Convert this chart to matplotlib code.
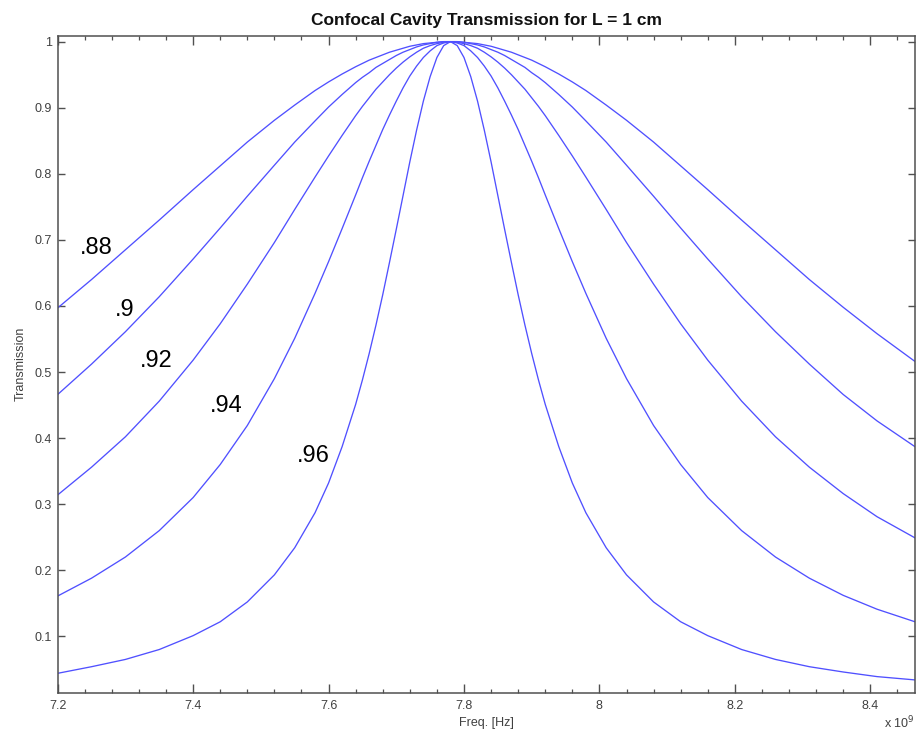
import matplotlib
matplotlib.use("Agg")
import matplotlib.pyplot as plt
from matplotlib.ticker import FixedLocator, FuncFormatter, MultipleLocator

# Frequency axis (units of 1e9 Hz)
freq_ghz = [7.20, 7.25, 7.30, 7.35, 7.40, 7.44, 7.48, 7.52, 7.55, 7.58, 7.60, 7.62, 7.64,
            7.65, 7.66, 7.67, 7.68, 7.69, 7.70, 7.71, 7.72, 7.73, 7.74, 7.75, 7.76, 7.77,
            7.78,
            7.79, 7.80, 7.81, 7.82, 7.83, 7.84, 7.85, 7.86, 7.87, 7.88, 7.89, 7.90, 7.91,
            7.92, 7.94, 7.96, 7.98, 8.01, 8.04, 8.08, 8.12, 8.16, 8.21, 8.26, 8.31, 8.36,
            8.41, 8.466]

t_088 = [0.597, 0.640, 0.685, 0.730, 0.776, 0.812, 0.848, 0.881, 0.904, 0.926, 0.939, 0.951, 0.962,
         0.967, 0.972, 0.976, 0.980, 0.984, 0.987, 0.990, 0.993, 0.995, 0.997, 0.998, 0.999, 1.000,
         1.000,
         1.000, 0.999, 0.998, 0.997, 0.995, 0.993, 0.990, 0.987, 0.984, 0.980, 0.976, 0.972, 0.967,
         0.962, 0.951, 0.939, 0.926, 0.904, 0.881, 0.848, 0.812, 0.776, 0.730, 0.685, 0.640, 0.598,
         0.558, 0.516]
t_090 = [0.466, 0.512, 0.561, 0.614, 0.671, 0.718, 0.766, 0.813, 0.848, 0.880, 0.901, 0.920, 0.938,
         0.946, 0.953, 0.961, 0.967, 0.973, 0.979, 0.984, 0.988, 0.992, 0.995, 0.997, 0.999, 1.000,
         1.000,
         1.000, 0.999, 0.997, 0.995, 0.992, 0.988, 0.984, 0.979, 0.973, 0.967, 0.961, 0.953, 0.946,
         0.938, 0.920, 0.901, 0.880, 0.848, 0.813, 0.766, 0.718, 0.671, 0.614, 0.561, 0.512, 0.466,
         0.426, 0.387]
t_092 = [0.314, 0.356, 0.402, 0.456, 0.518, 0.573, 0.633, 0.696, 0.746, 0.795, 0.827, 0.858, 0.888,
         0.902, 0.915, 0.928, 0.939, 0.950, 0.960, 0.969, 0.977, 0.984, 0.990, 0.994, 0.997, 0.999,
         1.000,
         0.999, 0.997, 0.994, 0.990, 0.984, 0.977, 0.969, 0.960, 0.950, 0.939, 0.928, 0.915, 0.902,
         0.888, 0.858, 0.827, 0.795, 0.746, 0.696, 0.633, 0.573, 0.518, 0.456, 0.402, 0.356, 0.316,
         0.281, 0.249]
t_094 = [0.161, 0.188, 0.220, 0.260, 0.310, 0.360, 0.419, 0.490, 0.551, 0.619, 0.667, 0.717, 0.768,
         0.794, 0.819, 0.843, 0.867, 0.889, 0.910, 0.930, 0.948, 0.963, 0.976, 0.986, 0.994, 0.998,
         1.000,
         0.998, 0.994, 0.986, 0.976, 0.963, 0.948, 0.930, 0.910, 0.889, 0.867, 0.843, 0.819, 0.794,
         0.768, 0.717, 0.667, 0.619, 0.551, 0.490, 0.419, 0.360, 0.310, 0.260, 0.220, 0.188, 0.162,
         0.141, 0.122]
t_096 = [0.044, 0.054, 0.065, 0.080, 0.101, 0.122, 0.152, 0.193, 0.234, 0.287, 0.332, 0.387, 0.451,
         0.488, 0.528, 0.571, 0.617, 0.666, 0.716, 0.767, 0.818, 0.866, 0.910, 0.947, 0.976, 0.994,
         1.000,
         0.994, 0.976, 0.947, 0.910, 0.866, 0.818, 0.767, 0.716, 0.666, 0.617, 0.571, 0.528, 0.488,
         0.451, 0.387, 0.332, 0.287, 0.234, 0.193, 0.152, 0.122, 0.101, 0.080, 0.065, 0.054, 0.046,
         0.039, 0.034]

curve_labels = [".88", ".9", ".92", ".94", ".96"]
label_x = [7.233, 7.285, 7.322, 7.425, 7.553]
label_y = [0.688, 0.594, 0.517, 0.449, 0.373]

x_ticks = [7.2, 7.4, 7.6, 7.8, 8.0, 8.2, 8.4]
y_ticks = [0.1, 0.2, 0.3, 0.4, 0.5, 0.6, 0.7, 0.8, 0.9, 1.0]

plt.rcParams['font.family'] = ['Liberation Sans', 'DejaVu Sans']

fig = plt.figure(figsize=(9.19, 7.39), dpi=100)
ax = fig.add_axes([0.0628, 0.0627, 0.9956 - 0.0628, 0.9517 - 0.0627])

line_color = '#5050ff'
for series in [t_088, t_090, t_092, t_094, t_096]:
    ax.plot(freq_ghz, series, color=line_color, lw=0.95, solid_joinstyle='round')

for lab, lx, ly in zip(curve_labels, label_x, label_y):
    ax.text(lx, ly, lab, fontsize=17, ha='left', va='center', color='black')

ax.set_xlim(7.2, 8.466)
ax.set_ylim(0.0147, 1.009)

ax.xaxis.set_major_locator(FixedLocator(x_ticks))
ax.xaxis.set_minor_locator(MultipleLocator(0.04))
ax.yaxis.set_major_locator(FixedLocator(y_ticks))
ax.xaxis.set_major_formatter(FuncFormatter(lambda v, p: f"{v:g}"))
ax.yaxis.set_major_formatter(FuncFormatter(lambda v, p: f"{v:g}"))

spine_col = '#505050'
for s in ax.spines.values():
    s.set_color(spine_col)
    s.set_linewidth(1.1)
ax.tick_params(which='both', direction='in', top=True, right=True,
               color=spine_col, labelcolor='#404040', labelsize=9)
ax.tick_params(axis='x', which='major', length=6.5, width=1.0, pad=5)
ax.tick_params(axis='x', which='minor', length=3.0, width=0.9)
ax.tick_params(axis='y', which='major', length=5.0, width=1.0, pad=4)

ax.set_title("Confocal Cavity Transmission for L = 1 cm", fontsize=12.5,
             fontweight='bold', color='#111111', pad=8)
ax.set_xlabel("Freq. [Hz]", fontsize=9, color='#404040', labelpad=4)
ax.set_ylabel("Transmission", fontsize=9, color='#404040', labelpad=6)

fig.text(0.9956, 0.010, r"x 10$^9$", fontsize=9, color='#404040', ha='right', va='bottom')

fig.savefig("out.png", dpi=100)
